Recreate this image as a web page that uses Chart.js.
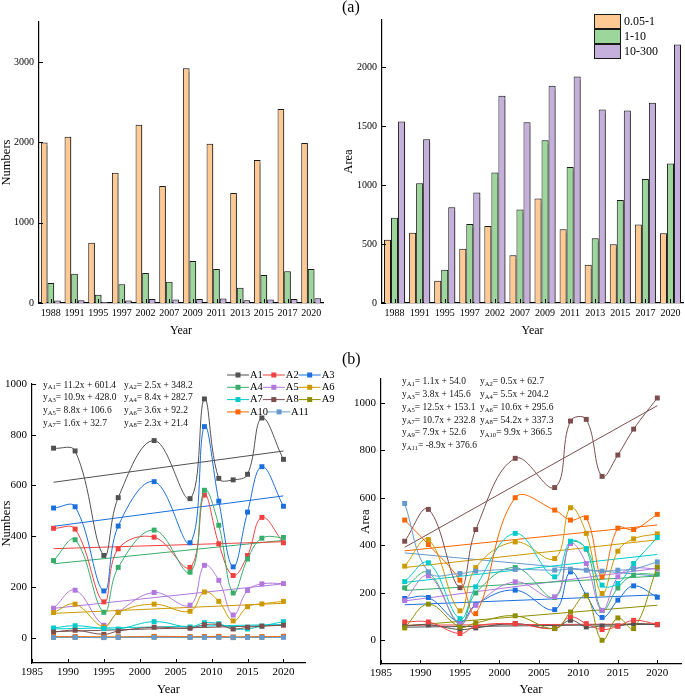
<!DOCTYPE html>
<html>
<head>
<meta charset="utf-8">
<script src="https://cdn.jsdelivr.net/npm/chart.js@4.4.0/dist/chart.umd.min.js"></script>
<style>
  html, body { margin: 0; padding: 0; background: #fff; }
  #wrap { position: relative; width: 685px; height: 696px; }
  canvas { position: absolute; }
</style>
</head>
<body>
<div id="wrap">
  <canvas id="tl" width="340" height="340" style="left:0;top:0"></canvas>
  <canvas id="tr" width="345" height="340" style="left:340px;top:0"></canvas>
  <canvas id="bl" width="340" height="356" style="left:0;top:340px"></canvas>
  <canvas id="br" width="345" height="356" style="left:340px;top:340px"></canvas>
</div>
<script>
// categories
const years = ['1988', '1991', '1995', '1997', '2002', '2007', '2009', '2011', '2013', '2015', '2017', '2020'];
const yearNums = [1988, 1991, 1995, 1997, 2002, 2007, 2009, 2011, 2013, 2015, 2017, 2020];
const sizeClasses = ['0.05-1', '1-10', '10-300'];
const lineNames = ['A1', 'A2', 'A3', 'A4', 'A5', 'A6', 'A7', 'A8', 'A9', 'A10', 'A11'];

// tick labels
const numBarTicks = [0, 1000, 2000, 3000];
const areaBarTicks = [0, 500, 1000, 1500, 2000];
const numLineTicks = [0, 200, 400, 600, 800, 1000];
const areaLineTicks = [0, 200, 400, 600, 800, 1000];
const yearTicks = [1985, 1990, 1995, 2000, 2005, 2010, 2015, 2020];

// (a) numbers and area per size class
const numSmall = [2000, 2070, 751, 1622, 2220, 1456, 2925, 1983, 1369, 1780, 2415, 1992];
const numMid = [249, 365, 104, 232, 373, 266, 523, 423, 191, 349, 394, 423];
const numLarge = [30, 35, 12, 30, 50, 45, 50, 55, 35, 45, 50, 60];
const areaSmall = [536, 595, 189, 461, 654, 406, 886, 626, 324, 499, 666, 592];
const areaMid = [722, 1016, 282, 671, 1106, 793, 1380, 1154, 550, 874, 1052, 1182];
const areaLarge = [1540, 1388, 812, 937, 1758, 1532, 1842, 1921, 1642, 1633, 1698, 2192];

// (b) numbers per zone
const numA1 = [747, 736, 324, 552, 777, 548, 941, 628, 622, 644, 866, 703];
const numA2 = [431, 428, 141, 350, 396, 277, 562, 370, 245, 324, 474, 374];
const numA3 = [511, 516, 184, 440, 615, 374, 832, 538, 279, 495, 674, 518];
const numA4 = [304, 386, 100, 277, 424, 258, 581, 443, 176, 310, 392, 395];
const numA5 = [116, 187, 49, 101, 178, 128, 285, 226, 89, 186, 212, 213];
const numA6 = [99, 132, 42, 99, 132, 104, 180, 143, 66, 122, 133, 143];
const numA7 = [38, 47, 36, 34, 63, 42, 59, 55, 36, 34, 46, 63];
const numA8 = [22, 29, 13, 26, 41, 37, 51, 51, 34, 41, 45, 49];
const numA9 = [2, 2, 1, 2, 3, 2, 3, 3, 0, 3, 2, 5];
const numA10 = [4, 4, 3, 3, 5, 4, 4, 5, 3, 4, 4, 5];
const numA11 = [1, 1, 0, 1, 1, 1, 1, 1, 1, 1, 1, 1];
const numSlope = [11.2, 2.5, 10.9, 8.4, 8.8, 3.6, 1.6, 2.3];
const numIntercept = [601.4, 348.2, 428.0, 282.7, 106.6, 92.2, 32.7, 21.4];

// (b) area per zone
const areaA1 = [60, 65, 45, 52, 70, 50, 84, 56, 60, 60, 70, 65];
const areaA2 = [77, 77, 28, 60, 70, 50, 98, 70, 45, 59, 84, 67];
const areaA3 = [176, 180, 77, 150, 211, 129, 288, 190, 96, 169, 229, 181];
const areaA4 = [221, 285, 65, 199, 306, 180, 410, 383, 125, 220, 274, 278];
const areaA5 = [167, 271, 70, 147, 246, 183, 407, 323, 126, 267, 302, 300];
const areaA6 = [312, 424, 124, 306, 414, 344, 558, 450, 197, 375, 427, 448];
const areaA7 = [247, 326, 91, 225, 450, 267, 417, 386, 232, 239, 323, 433];
const areaA8 = [417, 551, 221, 466, 766, 643, 923, 930, 690, 780, 889, 1020];
const areaA9 = [52, 152, 56, 73, 103, 49, 119, 187, 0, 94, 49, 309];
const areaA10 = [506, 403, 253, 112, 600, 548, 506, 516, 267, 472, 466, 530];
const areaA11 = [576, 288, 281, 291, 298, 295, 299, 295, 291, 295, 300, 330];
const areaSlope = [1.1, 0.5, 3.8, 5.5, 12.5, 10.6, 10.7, 54.2, 7.9, 9.9, -8.9];
const areaIntercept = [54.0, 62.7, 145.6, 204.2, 153.1, 295.6, 232.8, 337.3, 52.6, 366.5, 376.6];

const numLines = [numA1, numA2, numA3, numA4, numA5, numA6, numA7, numA8, numA9, numA10, numA11];
const areaLines = [areaA1, areaA2, areaA3, areaA4, areaA5, areaA6, areaA7, areaA8, areaA9, areaA10, areaA11];

const palette = ['#515151', '#F14040', '#1A6FDF', '#37AD6B', '#B177DE', '#CC9900', '#00CBCC', '#7D4E4E', '#8E8E00', '#FB6501', '#6699CC'];
const barColors = ['#FFC994', '#9CD69A', '#C4B0DB'];
const serif = '"Liberation Serif", "Times New Roman", serif';

// small ticks pointing into the plot
const inwardTicks = {
  id: 'inwardTicks',
  afterDraw(chart) {
    const { ctx, chartArea: a, scales: { x, y } } = chart;
    ctx.save();
    ctx.strokeStyle = '#000';
    ctx.lineWidth = 1;
    ctx.beginPath();
    y.ticks.forEach((t, i) => {
      const p = Math.round(y.getPixelForTick(i)) + 0.5;
      ctx.moveTo(a.left, p); ctx.lineTo(a.left + 4, p);
    });
    x.ticks.forEach((t, i) => {
      const p = Math.round(x.getPixelForTick(i)) + 0.5;
      ctx.moveTo(p, a.bottom); ctx.lineTo(p, a.bottom - 4);
    });
    ctx.stroke();
    ctx.restore();
  }
};

// grey drop shadow under the bars
const barShadow = {
  id: 'barShadow',
  beforeDatasetsDraw(chart) {
    const ctx = chart.ctx;
    ctx.save();
    ctx.shadowColor = 'rgba(0,0,0,0.35)';
    ctx.shadowOffsetX = 1.5;
    ctx.shadowOffsetY = 0.5;
    ctx.shadowBlur = 1;
  },
  afterDatasetsDraw(chart) {
    chart.ctx.restore();
  }
};

function yScale(min, max, tickVals, width, title, tpad, fs) {
  return {
    min: min, max: max,
    afterBuildTicks: s => { s.ticks = tickVals.map(v => ({ value: v })); },
    afterFit: s => { s.width = width; },
    ticks: { padding: 5, color: '#000', font: { family: serif, size: fs }, callback: v => String(v) },
    grid: { display: false, drawTicks: false },
    border: { color: '#000', width: 1.2 },
    title: { display: true, text: title, color: '#000', font: { family: serif, size: 12.5, lineHeight: 1 }, padding: { top: tpad, bottom: 0 } }
  };
}

function barX(height) {
  return {
    type: 'category',
    afterFit: s => { s.height = height; },
    ticks: { padding: 4, color: '#000', font: { family: serif, size: 10 }, autoSkip: false, maxRotation: 0 },
    grid: { display: false, drawTicks: false },
    border: { color: '#000', width: 1.2 },
    title: { display: true, text: 'Year', color: '#000', font: { family: serif, size: 12, lineHeight: 1 }, padding: { top: 0, bottom: 3 } }
  };
}

function lineX(height, pad) {
  return {
    type: 'linear', min: 1985, max: 2023,
    afterBuildTicks: s => { s.ticks = yearTicks.map(v => ({ value: v })); },
    afterFit: s => { s.height = height; },
    ticks: { padding: pad, color: '#000', font: { family: serif, size: 11 }, callback: v => String(v), autoSkip: false, maxRotation: 0 },
    grid: { display: false, drawTicks: false },
    border: { color: '#000', width: 1.2 },
    title: { display: true, text: 'Year', color: '#000', font: { family: serif, size: 12.5, lineHeight: 1 }, padding: { top: 0, bottom: 0 } }
  };
}

function barSets(small, mid, large) {
  return [small, mid, large].map((vals, i) => ({
    label: sizeClasses[i], data: vals,
    backgroundColor: barColors[i], borderColor: '#1a1a1a', borderWidth: 1,
    categoryPercentage: 0.84, barPercentage: 1.0
  }));
}

function curveSets(series) {
  return series.map((vals, i) => ({
    type: 'line', label: lineNames[i], order: series.length - i,
    data: yearNums.map((x, j) => ({ x: x, y: vals[j] })),
    borderColor: palette[i], backgroundColor: palette[i], borderWidth: 1,
    pointStyle: 'rect', pointRadius: 3.5, pointBorderWidth: 0, tension: 0.4, clip: false
  }));
}

// fitted lines from the printed equations (x = 1 at 1988 ... 12 at 2020)
function trendSets(slopes, intercepts) {
  const n = yearNums.length;
  return slopes.map((a, i) => ({
    type: 'line', label: 'fit ' + lineNames[i], order: 30,
    data: [{ x: yearNums[0], y: a * 1 + intercepts[i] }, { x: yearNums[n - 1], y: a * n + intercepts[i] }],
    borderColor: palette[i], borderWidth: 1, pointRadius: 0, tension: 0
  }));
}

function eqPlugin(slopes, intercepts, x0, dx, y0, dy, fs) {
  return {
    id: 'eq',
    afterDraw(chart) {
      const ctx = chart.ctx;
      ctx.save();
      ctx.fillStyle = '#111';
      ctx.textBaseline = 'middle';
      slopes.forEach((a, i) => {
        const x = x0 + (i % 2) * dx;
        const y = y0 + Math.floor(i / 2) * dy;
        ctx.font = fs + 'px ' + serif;
        ctx.fillText('y', x, y);
        let w = ctx.measureText('y').width;
        ctx.font = (fs * 0.7) + 'px ' + serif;
        ctx.fillText('A' + (i + 1), x + w, y + 2.5);
        w += ctx.measureText('A' + (i + 1)).width;
        ctx.font = fs + 'px ' + serif;
        ctx.fillText('= ' + a.toFixed(1) + 'x + ' + intercepts[i].toFixed(1), x + w, y);
      });
      ctx.restore();
    }
  };
}

const boxLegend = {
  id: 'boxLegend',
  afterDraw(chart) {
    const ctx = chart.ctx;
    ctx.save();
    ctx.font = '12px ' + serif;
    ctx.textBaseline = 'middle';
    chart.data.datasets.forEach((ds, i) => {
      const y = 14 + i * 15;
      ctx.fillStyle = ds.backgroundColor;
      ctx.fillRect(254, y, 26, 14);
      ctx.strokeStyle = '#1a1a1a';
      ctx.lineWidth = 1;
      ctx.strokeRect(254.5, y + 0.5, 26, 14);
      ctx.fillStyle = '#000';
      ctx.fillText(ds.label, 284, y + 7.5);
    });
    ctx.restore();
  }
};

const lineLegend = {
  id: 'lineLegend',
  afterDraw(chart) {
    const ctx = chart.ctx;
    ctx.save();
    ctx.font = '10.5px ' + serif;
    ctx.textBaseline = 'middle';
    let x = 227;
    lineNames.forEach((name, i) => {
      if (i % 3 === 0) x = 227;
      const y = 35 + Math.floor(i / 3) * 12.3;
      ctx.strokeStyle = palette[i];
      ctx.lineWidth = 1;
      ctx.beginPath(); ctx.moveTo(x, y); ctx.lineTo(x + 22, y); ctx.stroke();
      ctx.fillStyle = palette[i];
      ctx.fillRect(x + 8.5, y - 2.5, 5, 5);
      ctx.fillStyle = '#000';
      ctx.fillText(name, x + 23, y);
      x += 23 + ctx.measureText(name).width;
    });
    ctx.restore();
  }
};

const panelLabel = (text, x, y) => ({
  id: 'panelLabel',
  afterDraw(chart) {
    const ctx = chart.ctx;
    ctx.save();
    ctx.font = '16px ' + serif;
    ctx.fillStyle = '#000';
    ctx.textBaseline = 'middle';
    ctx.fillText(text, x, y);
    ctx.restore();
  }
});

const baseOpts = { responsive: false, animation: false };
const noPlug = { legend: { display: false }, tooltip: { enabled: false } };

new Chart(document.getElementById('tl'), {
  type: 'bar',
  data: { labels: years, datasets: barSets(numSmall, numMid, numLarge) },
  options: Object.assign({}, baseOpts, {
    layout: { padding: { left: 0, top: 22, right: 17, bottom: 0 } },
    plugins: noPlug,
    scales: { x: barX(37), y: yScale(0, 3500, numBarTicks, 39, 'Numbers', 0, 10) }
  }),
  plugins: [barShadow, inwardTicks]
});

new Chart(document.getElementById('tr'), {
  type: 'bar',
  data: { labels: years, datasets: barSets(areaSmall, areaMid, areaLarge) },
  options: Object.assign({}, baseOpts, {
    layout: { padding: { left: 0, top: 20, right: 2, bottom: 0 } },
    plugins: noPlug,
    scales: { x: barX(37), y: yScale(0, 2400, areaBarTicks, 42, 'Area', 2, 10) }
  }),
  plugins: [barShadow, inwardTicks, boxLegend, panelLabel('(a)', 2, 8)]
});

new Chart(document.getElementById('bl'), {
  type: 'line',
  data: { datasets: curveSets(numLines).concat(trendSets(numSlope, numIntercept)) },
  options: Object.assign({}, baseOpts, {
    layout: { padding: { left: 0, top: 44, right: 35, bottom: 0 } },
    plugins: noPlug,
    scales: { x: lineX(33, 2.5), y: yScale(-100, 1000, numLineTicks, 32, 'Numbers', 0, 11) }
  }),
  plugins: [inwardTicks, lineLegend, eqPlugin(numSlope, numIntercept, 43, 81, 45, 12.7, 9.5)]
});

new Chart(document.getElementById('br'), {
  type: 'line',
  data: { datasets: curveSets(areaLines).concat(trendSets(areaSlope, areaIntercept)) },
  options: Object.assign({}, baseOpts, {
    layout: { padding: { left: 0, top: 39, right: 2, bottom: 0 } },
    plugins: noPlug,
    scales: { x: lineX(32, 2.5), y: yScale(-100, 1100, areaLineTicks, 41, 'Area', 19, 11) }
  }),
  plugins: [inwardTicks, eqPlugin(areaSlope, areaIntercept, 62, 78, 41.7, 12.8, 9.5), panelLabel('(b)', 2, 20)]
});
</script>
</body>
</html>
